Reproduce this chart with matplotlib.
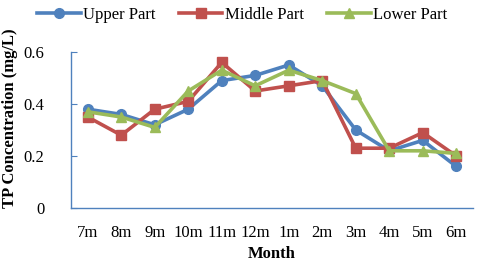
import matplotlib
matplotlib.use("Agg")
import matplotlib.pyplot as plt

months = ["7m", "8m", "9m", "10m", "11m", "12m", "1m", "2m", "3m", "4m", "5m", "6m"]
upper = [0.38, 0.36, 0.32, 0.38, 0.49, 0.51, 0.55, 0.47, 0.30, 0.22, 0.26, 0.16]
middle = [0.35, 0.28, 0.38, 0.41, 0.56, 0.45, 0.47, 0.49, 0.23, 0.23, 0.29, 0.20]
lower = [0.37, 0.35, 0.31, 0.45, 0.53, 0.47, 0.53, 0.49, 0.44, 0.22, 0.22, 0.21]

plt.rcParams.update({
    "font.family": "Liberation Serif",
    "font.size": 12,
})

fig = plt.figure(figsize=(4.8, 2.67), dpi=100)
ax = fig.add_axes([71 / 480, 1 - 208 / 267, (473 - 71) / 480, (208 - 52) / 267])

x = list(range(len(months)))
ax.plot(x, upper, "-o", color="#4F81BD", lw=2.6, ms=7, label="Upper Part")
ax.plot(x, middle, "-s", color="#C0504D", lw=2.6, ms=7, label="Middle Part")
ax.plot(x, lower, "-^", color="#9BBB59", lw=2.6, ms=7, label="Lower Part")

ax.set_xlim(-0.5, len(months) - 0.5)
ax.set_ylim(0, 0.6)
ax.set_yticks([0, 0.2, 0.4, 0.6])
ax.set_yticklabels(["0", "0.2", "0.4", "0.6"])
ax.set_xticks(x)
ax.set_xticklabels(months)
ax.tick_params(axis="x", length=0, pad=12, labelsize=12)
ax.tick_params(axis="y", direction="in", length=4, color="#4F81BD", pad=19, labelsize=12)
for side in ("top", "right"):
    ax.spines[side].set_visible(False)
for side in ("left", "bottom"):
    ax.spines[side].set_color("#4F81BD")
    ax.spines[side].set_linewidth(1.0)

ax.set_xlabel("Month", fontweight="bold", fontsize=12, labelpad=4)
ax.set_ylabel("TP Concentration (mg/L)", fontweight="bold", fontsize=12)
ax.yaxis.set_label_coords(-0.132, 0.577)

fig.legend(loc="upper center", bbox_to_anchor=(0.505, 1.03), ncol=3, frameon=False,
           fontsize=12, handlelength=2.6, columnspacing=1.4, handletextpad=0.15)

fig.savefig("out.png", dpi=100)
